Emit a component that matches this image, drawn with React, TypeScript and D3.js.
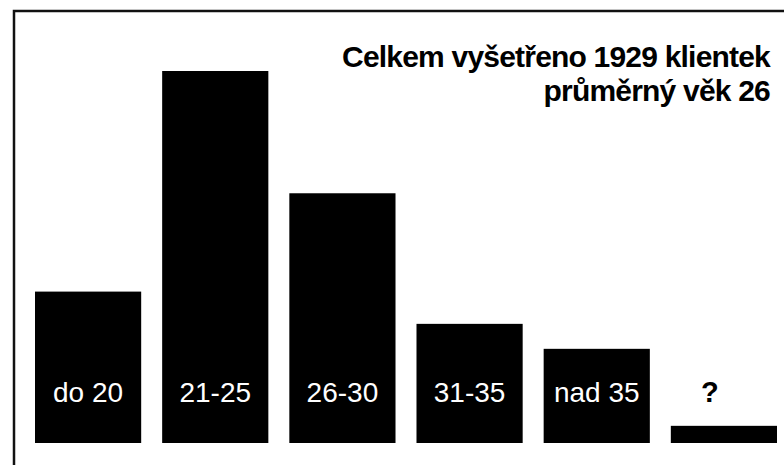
import React, { useEffect, useRef } from 'react'
import * as d3 from 'd3'

// age groups and number of examined clients
const ageGroups: string[] = ['do 20', '21-25', '26-30', '31-35', 'nad 35', '?']
const clientCounts: number[] = [291, 715, 480, 229, 181, 33]
const titleLines: string[] = ['Celkem vyšetřeno 1929 klientek', 'průměrný věk 26']

const WIDTH = 784
const HEIGHT = 465

const App = () => {
  const svgRef = useRef<SVGSVGElement | null>(null)

  useEffect(() => {
    const svg = d3.select(svgRef.current)
    svg.selectAll('*').remove()

    const font = '"Liberation Sans", Arial, sans-serif'
    const baseline = 443

    const x = d3
      .scaleBand<string>()
      .domain(ageGroups)
      .range([35, 777])
      .paddingInner(0.165)
      .paddingOuter(0)

    const y = d3
      .scaleLinear()
      .domain([0, d3.max(clientCounts) as number])
      .range([baseline, 71])

    // background
    svg.append('rect')
      .attr('width', WIDTH)
      .attr('height', HEIGHT)
      .attr('fill', '#ffffff')

    // frame (only top and left edges are visible)
    svg.append('path')
      .attr('d', `M14,${HEIGHT} L14,11 L${WIDTH},11`)
      .attr('fill', 'none')
      .attr('stroke', '#111')
      .attr('stroke-width', 2.5)

    const data = ageGroups.map((g, i) => ({ group: g, value: clientCounts[i] }))

    // bars
    svg.selectAll('rect.bar')
      .data(data)
      .enter()
      .append('rect')
      .attr('class', 'bar')
      .attr('x', d => x(d.group) as number)
      .attr('y', d => y(d.value))
      .attr('width', x.bandwidth())
      .attr('height', d => baseline - y(d.value))
      .attr('fill', '#000')

    // category labels inside the bars (white), "?" above its short bar (black)
    svg.selectAll('text.label')
      .data(data)
      .enter()
      .append('text')
      .attr('class', 'label')
      .attr('x', d => (x(d.group) as number) + x.bandwidth() / 2 + (d.group === '?' ? -14 : 0))
      .attr('y', 402)
      .attr('text-anchor', 'middle')
      .attr('font-family', font)
      .attr('font-size', d => (d.group === '?' ? 29 : 28))
      .attr('font-weight', d => (d.group === '?' ? 'bold' : 'normal'))
      .attr('fill', d => (y(d.value) < 380 ? '#fff' : '#000'))
      .text(d => d.group)

    // title, right aligned
    svg.selectAll('text.title')
      .data(titleLines)
      .enter()
      .append('text')
      .attr('class', 'title')
      .attr('x', 770)
      .attr('y', (d, i) => 67 + i * 34)
      .attr('text-anchor', 'end')
      .attr('font-family', font)
      .attr('font-size', 30)
      .attr('letter-spacing', -0.8)
      .attr('font-weight', 'bold')
      .attr('fill', '#000')
      .text(d => d)
  }, [])

  return (
    <svg
      ref={svgRef}
      width={WIDTH}
      height={HEIGHT}
      style={{ position: 'absolute', left: 0, top: 0, display: 'block' }}
    />
  )
}

export default App
